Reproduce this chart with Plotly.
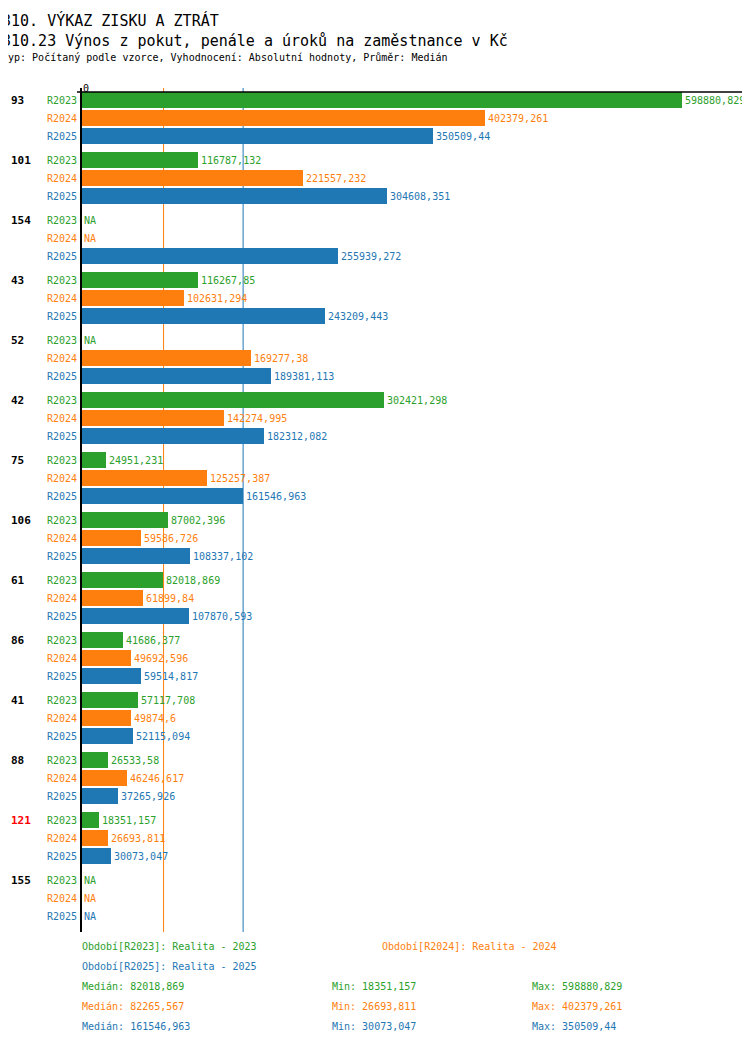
import plotly.graph_objects as go

groups = ['93', '101', '154', '43', '52', '42', '75', '106', '61', '86', '41', '88', '121', '155']
periods = ['R2023', 'R2024', 'R2025']
r2023 = [598880.829, 116787.132, None, 116267.85, None, 302421.298, 24951.231, 87002.396, 82018.869, 41686.377, 57117.708, 26533.58, 18351.157, None]
r2024 = [402379.261, 221557.232, None, 102631.294, 169277.38, 142274.995, 125257.387, 59586.726, 61899.84, 49692.596, 49874.6, 46246.617, 26693.811, None]
r2025 = [350509.44, 304608.351, 255939.272, 243209.443, 189381.113, 182312.082, 161546.963, 108337.102, 107870.593, 59514.817, 52115.094, 37265.926, 30073.047, None]
colors = ['#2ca02c', '#ff7f0e', '#1f77b4']
medians = [82018.869, 82265.567, 161546.963]
mins = [18351.157, 26693.811, 30073.047]
maxs = [598880.829, 402379.261, 350509.44]
period_names = ['Realita - 2023', 'Realita - 2024', 'Realita - 2025']

FONT = 'DejaVu Sans Mono'
W, H = 750, 1052
OFF = 8  # page body margin
PL, PR, PT, PB = 81, 745, 92, 932  # plot area in page pixels
XMAX = (PR - PL) / 601 * 598880.829


def fmt(v):
    s = ('%.3f' % v).rstrip('0').rstrip('.')
    return s.replace('.', ',')


def px(x):
    return (x - PL) / (PR - PL)


def py(y):
    return (PB - y) / (PB - PT)


fig = go.Figure()
ann = []
series = [r2023, r2024, r2025]
for k, vals in enumerate(series):
    ys = [g * 60 + k * 18 + 8 for g in range(len(groups))]
    fig.add_trace(go.Bar(
        x=[v if v is not None else 0 for v in vals], y=ys, orientation='h',
        width=16, marker=dict(color=colors[k], line=dict(width=0)),
        showlegend=False, hoverinfo='x'))
    for g, v in enumerate(vals):
        ann.append(dict(x=v if v is not None else 0, y=ys[g], xref='x', yref='y',
                        text=fmt(v) if v is not None else 'NA', showarrow=False,
                        xanchor='left', xshift=1,
                        font=dict(family=FONT, size=10, color=colors[k])))
        ann.append(dict(x=px(79), y=ys[g], xref='paper', yref='y', text=periods[k],
                        showarrow=False, xanchor='right',
                        font=dict(family=FONT, size=10, color=colors[k])))

for g, name in enumerate(groups):
    ann.append(dict(x=px(9), y=g * 60 + 8, xref='paper', yref='y', text='<b>%s</b>' % name,
                    showarrow=False, xanchor='left',
                    font=dict(family=FONT, size=11, color='red' if name == '121' else 'black')))

shapes = []
for k in (1, 2):
    shapes.append(dict(type='line', xref='x', yref='paper', x0=medians[k], x1=medians[k],
                       y0=0, y1=py(88), layer='below', line=dict(color=colors[k], width=1)))
shapes.append(dict(type='line', xref='paper', yref='paper', x0=0, x1=0, y0=0, y1=py(88),
                   line=dict(color='black', width=2)))
shapes.append(dict(type='line', xref='paper', yref='paper', x0=px(77), x1=1, y0=1, y1=1,
                   line=dict(color='black', width=1.5)))

ann.append(dict(x=0, y=py(81), xref='paper', yref='paper', text='0', showarrow=False,
                font=dict(family=FONT, size=10, color='black')))

titles = [('310. VÝKAZ ZISKU A ZTRÁT', 15, 9), ('310.23 Výnos z pokut, penále a úroků na zaměstnance v Kč', 15, 30),
          ('Typ: Počítaný podle vzorce, Vyhodnocení: Absolutní hodnoty, Průměr: Medián', 10, 50)]
for t, s, y in titles:
    ann.append(dict(x=px(0), y=py(y), xref='paper', yref='paper', text=t, showarrow=False,
                    xanchor='left', font=dict(family=FONT, size=s, color='black')))

legend_pos = [(80, 954), (380, 954), (80, 974)]
for k in range(3):
    x, y = legend_pos[k]
    ann.append(dict(x=px(x), y=py(y), xref='paper', yref='paper',
                    text='Období[%s]: %s' % (periods[k], period_names[k]), showarrow=False,
                    xanchor='left', font=dict(family=FONT, size=10, color=colors[k])))
    y = 994 + k * 20
    for x, lab, v in [(80, 'Medián', medians[k]), (330, 'Min', mins[k]), (530, 'Max', maxs[k])]:
        ann.append(dict(x=px(x), y=py(y), xref='paper', yref='paper',
                        text='%s: %s' % (lab, fmt(v)), showarrow=False, xanchor='left',
                        font=dict(family=FONT, size=10, color=colors[k])))

fig.update_layout(
    width=W, height=H,
    margin=dict(l=PL - OFF, r=W - PR + OFF, t=PT - OFF, b=H - PB + OFF),
    plot_bgcolor='white', paper_bgcolor='white', bargap=0,
    xaxis=dict(range=[0, XMAX], showgrid=False, zeroline=False, showticklabels=False),
    yaxis=dict(range=[840, 0], showgrid=False, zeroline=False, showticklabels=False),
    annotations=ann, shapes=shapes)
fig.write_html('out.html')
